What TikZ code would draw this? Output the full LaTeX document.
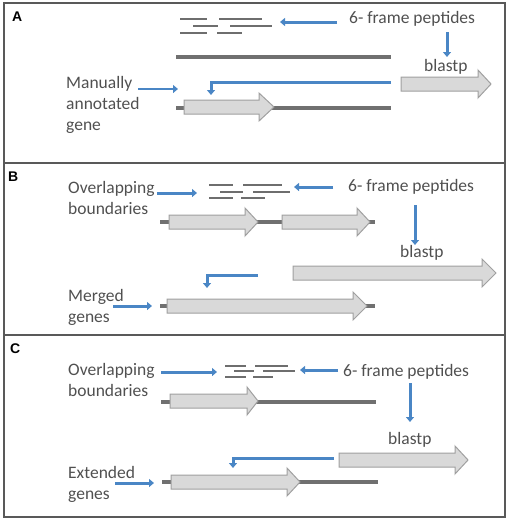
\documentclass[tikz,border=0pt]{standalone}
\usepackage{fontspec}
\setmainfont{Carlito}
\newfontfamily\panelfont{Liberation Sans}
\usetikzlibrary{arrows.meta}
\definecolor{txtgray}{HTML}{505050}
\definecolor{framegray}{HTML}{595959}
\definecolor{pepgray}{HTML}{6E6E6E}
\definecolor{dnagray}{HTML}{707070}
\definecolor{genefill}{HTML}{D9D9D9}
\definecolor{genedraw}{HTML}{A0A0A0}
\definecolor{arrowblue}{HTML}{4A86C5}
\tikzstyle{panel} = [draw=framegray, line width=1.5pt]
\tikzstyle{letter} = [font=\panelfont\bfseries\fontsize{14}{14}\selectfont, anchor=west, inner sep=0pt]
\tikzstyle{txt} = [font=\fontsize{17.5}{21}\selectfont, text=txtgray, align=left, anchor=west, inner sep=0pt]
\tikzstyle{pep} = [draw=pepgray, line width=2pt]
\tikzstyle{dna} = [draw=dnagray, line width=4pt]
\tikzstyle{gene} = [fill=genefill, draw=genedraw, line width=1pt]
\tikzstyle{arrow} = [draw=arrowblue, line width=3pt, -{Triangle[width=8pt,length=5pt]}]
% start, head start, tip, centre y
\newcommand{\genearrow}[4]{\draw[gene] (#1,#4-7) -- (#2,#4-7) -- (#2,#4-14) -- (#3,#4) -- (#2,#4+14) -- (#2,#4+7) -- (#1,#4+7) -- cycle;}

\begin{document}
\begin{tikzpicture}[x=1pt, y=-1pt]
\useasboundingbox (0,0) rectangle (510,520);
% Frame
\draw[panel] (4,3) rectangle (505,517);
\draw[panel] (4,163) -- (505,163);
\draw[panel] (4,335) -- (505,335);

% Panel A
\node (labA) [letter] at (12,17) {A};
\node (sixA) [txt] at (349,19) {6- frame peptides};
\node (blastA) [txt] at (424,67) {blastp};
\node (manA) [txt] at (66,105) {Manually\\annotated\\gene};
\draw[pep] (180,19) -- (207,19);
\draw[pep] (219,19) -- (262,19);
\draw[pep] (193,26) -- (218,26);
\draw[pep] (230,26) -- (272,26);
\draw[pep] (180,33) -- (207,33);
\draw[pep] (217,33) -- (242,33);
\draw[dna] (176,57) -- (391,57);
\draw[dna] (176,108) -- (391,108);
\genearrow{184}{259}{274}{107}
\genearrow{401}{478}{491}{84}
\coordinate (pepA0) at (337,22);
\coordinate (pepA1) at (280,22);
\coordinate (blA0) at (447,32);
\coordinate (blA1) at (447,57);
\coordinate (hitA0) at (391,82);
\coordinate (hitA1) at (211,95);
\coordinate (manA0) at (138,89);
\coordinate (manA1) at (178,89);
\draw[arrow] (pepA0) -- (pepA1);
\draw[arrow] (blA0) -- (blA1);
\draw[arrow] (hitA0) -| (hitA1);
\draw[arrow, line width=2.5pt] (manA0) -- (manA1);

% Panel B
\node (labB) [letter] at (8,177) {B};
\node (overB) [txt] at (68,198) {Overlapping\\boundaries};
\node (sixB) [txt] at (348,187) {6- frame peptides};
\node (blastB) [txt] at (400,253) {blastp};
\node (mergB) [txt] at (68,307) {Merged\\genes};
\draw[pep] (209,185) -- (233,185);
\draw[pep] (243,185) -- (282,185);
\draw[pep] (220,192) -- (243,192);
\draw[pep] (253,192) -- (290,192);
\draw[pep] (209,198) -- (233,198);
\draw[pep] (241,198) -- (265,198);
\draw[dna] (160,222) -- (375,222);
\genearrow{169}{245}{258}{222}
\genearrow{282}{357}{370}{222}
\genearrow{293}{482}{496}{273}
\draw[dna] (160,306) -- (375,306);
\genearrow{167}{353}{367}{306}
\coordinate (overB0) at (157,193);
\coordinate (overB1) at (197,193);
\coordinate (pepB0) at (333,187);
\coordinate (pepB1) at (294,187);
\coordinate (blB0) at (415,205);
\coordinate (blB1) at (415,245);
\coordinate (hitB0) at (258,275);
\coordinate (hitB1) at (207,288);
\coordinate (mergB0) at (113,306);
\coordinate (mergB1) at (152,306);
\draw[arrow] (overB0) -- (overB1);
\draw[arrow] (pepB0) -- (pepB1);
\draw[arrow] (blB0) -- (blB1);
\draw[arrow] (hitB0) -| (hitB1);
\draw[arrow] (mergB0) -- (mergB1);

% Panel C
\node (labC) [letter] at (10,349) {C};
\node (overC) [txt] at (68,380) {Overlapping\\boundaries};
\node (sixC) [txt] at (343,372) {6- frame peptides};
\node (blastC) [txt] at (388,440) {blastp};
\node (extC) [txt] at (68,484) {Extended\\genes};
\draw[pep] (225,366) -- (246,366);
\draw[pep] (255,366) -- (288,366);
\draw[pep] (234,371) -- (254,371);
\draw[pep] (263,371) -- (295,371);
\draw[pep] (225,377) -- (246,377);
\draw[pep] (253,377) -- (273,377);
\draw[dna] (161,402) -- (376,402);
\genearrow{170}{247}{258}{401}
\genearrow{339}{455}{468}{460}
\draw[dna] (162,482) -- (378,482);
\genearrow{171}{287}{300}{482}
\coordinate (overC0) at (161,372);
\coordinate (overC1) at (217,372);
\coordinate (pepC0) at (338,370);
\coordinate (pepC1) at (300,370);
\coordinate (blC0) at (410,383);
\coordinate (blC1) at (410,422);
\coordinate (hitC0) at (334,458);
\coordinate (hitC1) at (233,468);
\coordinate (extC0) at (115,483);
\coordinate (extC1) at (154,483);
\draw[arrow] (overC0) -- (overC1);
\draw[arrow] (pepC0) -- (pepC1);
\draw[arrow] (blC0) -- (blC1);
\draw[arrow] (hitC0) -| (hitC1);
\draw[arrow] (extC0) -- (extC1);
\end{tikzpicture}
\end{document}
